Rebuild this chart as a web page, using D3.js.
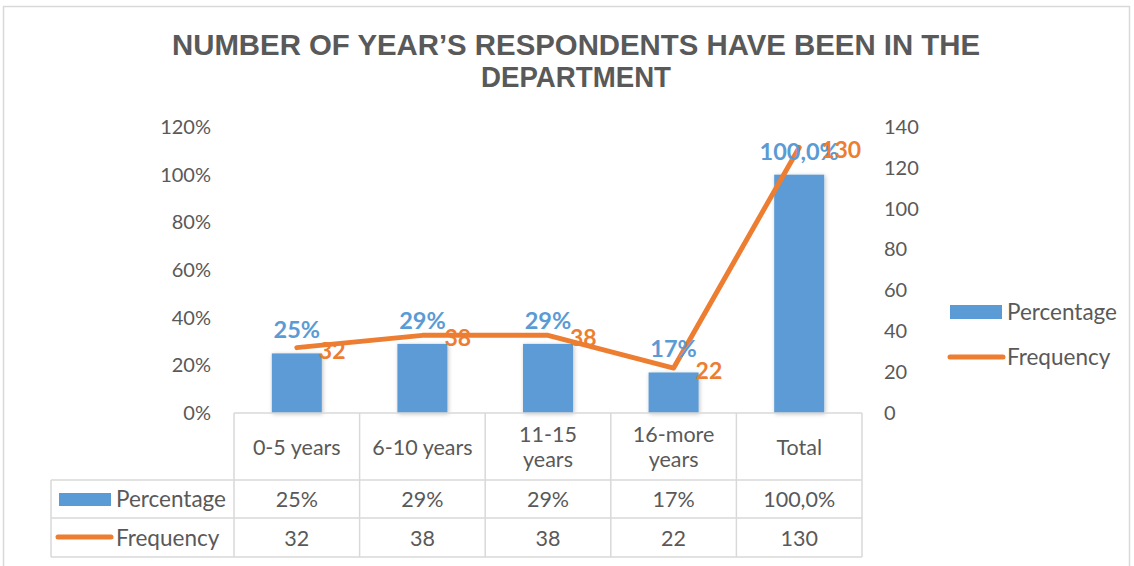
<!DOCTYPE html>
<html>
<head>
<meta charset="utf-8">
<script src="https://cdn.jsdelivr.net/npm/d3@7"></script>
<style>
  body { margin: 0; background: #fff; }
  svg { display: block; }
</style>
</head>
<body>
<svg></svg>
<script>
//Setting
const width = 1134;
const height = 566;

// data
const categories = ["0-5 years", "6-10 years", "11-15 years", "16-more years", "Total"];
const catLines = [["0-5 years"], ["6-10 years"], ["11-15", "years"], ["16-more", "years"], ["Total"]];
const percentage = [0.25, 0.29, 0.29, 0.17, 1.0];
const percentLabels = ["25%", "29%", "29%", "17%", "100,0%"];
const frequency = [32, 38, 38, 22, 130];
const leftTicks = [0, 0.2, 0.4, 0.6, 0.8, 1.0, 1.2];
const rightTicks = [0, 20, 40, 60, 80, 100, 120, 140];
const titleLines = ["NUMBER OF YEAR\u2019S RESPONDENTS HAVE BEEN IN THE", "DEPARTMENT"];

const blue = "#5B9BD5";
const orange = "#ED7D31";
const textCol = "#595959";
const gridCol = "#D9D9D9";
const font = "Lato, 'Open Sans', sans-serif";

const svg = d3.select("svg")
  .attr("width", width)
  .attr("height", height)
  .style("font-family", font);

// frame
svg.append("rect")
  .attr("x", 3.5).attr("y", 6.5)
  .attr("width", 1126).attr("height", 570)
  .attr("fill", "none").attr("stroke", "#D9D9D9").attr("stroke-width", 1.5);

// title
const titleWidths = [808, 190];
svg.append("g").selectAll("text")
  .data(titleLines)
  .enter().append("text")
  .attr("x", 576)
  .attr("y", (d, i) => 55 + i * 32)
  .attr("text-anchor", "middle")
  .attr("fill", textCol)
  .style("font-family", "'Liberation Sans Narrow', 'Arial Narrow', 'Liberation Sans', sans-serif")
  .style("font-weight", "bold")
  .style("font-size", "30px")
  .attr("textLength", (d, i) => titleWidths[i])
  .attr("lengthAdjust", "spacingAndGlyphs")
  .text(d => d);

// scales
const x = d3.scaleBand()
  .domain(categories)
  .range([234, 862]);

const yL = d3.scaleLinear().domain([0, 1.2]).range([413, 127]);
const yR = d3.scaleLinear().domain([0, 140]).range([413, 127]);

// left axis
const axL = svg.append("g")
  .attr("transform", "translate(211,0)")
  .call(d3.axisLeft(yL).tickValues(leftTicks).tickFormat(d3.format(".0%")).tickSize(0).tickPadding(0));
axL.select(".domain").remove();
axL.selectAll("text").attr("fill", textCol).style("font-size", "20px").style("font-family", font);

// right axis
const axR = svg.append("g")
  .attr("transform", "translate(884,0)")
  .call(d3.axisRight(yR).tickValues(rightTicks).tickSize(0).tickPadding(0));
axR.select(".domain").remove();
axR.selectAll("text").attr("fill", textCol).style("font-size", "20px").style("font-family", font);

// bar shadow
const defs = svg.append("defs");
const f = defs.append("filter").attr("id", "shadow").attr("x", "-30%").attr("y", "-30%").attr("width", "160%").attr("height", "160%");
f.append("feDropShadow").attr("dx", 1).attr("dy", 1).attr("stdDeviation", 2).attr("flood-color", "#000").attr("flood-opacity", 0.25);

const barW = 50;

// bars
svg.append("g").selectAll("rect")
  .data(percentage)
  .enter().append("rect")
  .attr("x", (d, i) => x(categories[i]) + x.bandwidth() / 2 - barW / 2)
  .attr("y", d => yL(d))
  .attr("width", barW)
  .attr("height", d => yL(0) - yL(d))
  .attr("fill", blue)
  .attr("filter", "url(#shadow)");

// line
const line = d3.line()
  .x((d, i) => x(categories[i]) + x.bandwidth() / 2)
  .y(d => yR(d));

svg.append("path")
  .datum(frequency)
  .attr("d", line)
  .attr("fill", "none")
  .attr("stroke", orange)
  .attr("stroke-width", 5)
  .attr("stroke-linecap", "round")
  .attr("stroke-linejoin", "round");

// percentage labels
svg.append("g").selectAll("text")
  .data(percentage)
  .enter().append("text")
  .attr("x", (d, i) => x(categories[i]) + x.bandwidth() / 2)
  .attr("y", d => yL(d) - 15)
  .attr("text-anchor", "middle")
  .attr("fill", blue)
  .style("font-weight", "bold")
  .style("font-size", "23.5px")
  .text((d, i) => percentLabels[i]);

// frequency labels
svg.append("g").selectAll("text")
  .data(frequency)
  .enter().append("text")
  .attr("x", (d, i) => x(categories[i]) + x.bandwidth() / 2 + 22)
  .attr("y", d => yR(d) + 11)
  .attr("fill", orange)
  .style("font-weight", "bold")
  .style("font-size", "23px")
  .text(d => d);

// data table
const table = svg.append("g").attr("stroke", gridCol).attr("stroke-width", 1.5).attr("fill", "none");

// horizontal lines
table.append("line").attr("x1", 234).attr("x2", 862).attr("y1", 413).attr("y2", 413);
[480, 518, 557].forEach(y => {
  table.append("line").attr("x1", 51).attr("x2", 862).attr("y1", y).attr("y2", y);
});
// vertical lines
table.append("line").attr("x1", 51).attr("x2", 51).attr("y1", 480).attr("y2", 557);
categories.forEach(c => {
  table.append("line").attr("x1", x(c)).attr("x2", x(c)).attr("y1", 413).attr("y2", 557);
});
table.append("line").attr("x1", 862).attr("x2", 862).attr("y1", 413).attr("y2", 557);

const cell = svg.append("g")
  .attr("fill", textCol)
  .style("font-size", "21.5px")
  .attr("text-anchor", "middle");

// category header
catLines.forEach((lines, i) => {
  const cx = x(categories[i]) + x.bandwidth() / 2;
  const n = lines.length;
  lines.forEach((t, j) => {
    cell.append("text")
      .attr("x", cx)
      .attr("y", 447 + (j - (n - 1) / 2) * 25)
      .attr("dy", "0.35em")
      .text(t);
  });
});

// rows
percentLabels.forEach((t, i) => {
  cell.append("text")
    .attr("x", x(categories[i]) + x.bandwidth() / 2)
    .attr("y", 499).attr("dy", "0.35em").text(t);
});
frequency.forEach((v, i) => {
  cell.append("text")
    .attr("x", x(categories[i]) + x.bandwidth() / 2)
    .attr("y", 538).attr("dy", "0.35em").text(v);
});

// row keys
svg.append("rect").attr("x", 59).attr("y", 493).attr("width", 52).attr("height", 13).attr("fill", blue);
svg.append("line").attr("x1", 58).attr("x2", 111).attr("y1", 537).attr("y2", 537)
  .attr("stroke", orange).attr("stroke-width", 5).attr("stroke-linecap", "round");
svg.append("text").attr("x", 116).attr("y", 499).attr("dy", "0.35em")
  .attr("fill", textCol).style("font-size", "22.5px").text("Percentage");
svg.append("text").attr("x", 116).attr("y", 538).attr("dy", "0.35em")
  .attr("fill", textCol).style("font-size", "22.5px").text("Frequency");

// legend
const legend = svg.append("g").attr("transform", "translate(950,0)");
legend.append("rect").attr("x", 0).attr("y", 305).attr("width", 52).attr("height", 14).attr("fill", blue);
legend.append("line").attr("x1", 0).attr("x2", 53).attr("y1", 357).attr("y2", 357)
  .attr("stroke", orange).attr("stroke-width", 5).attr("stroke-linecap", "round");
legend.append("text").attr("x", 57).attr("y", 312).attr("dy", "0.35em")
  .attr("fill", textCol).style("font-size", "22.5px").text("Percentage");
legend.append("text").attr("x", 57).attr("y", 357).attr("dy", "0.35em")
  .attr("fill", textCol).style("font-size", "22.5px").text("Frequency");
</script>
</body>
</html>
